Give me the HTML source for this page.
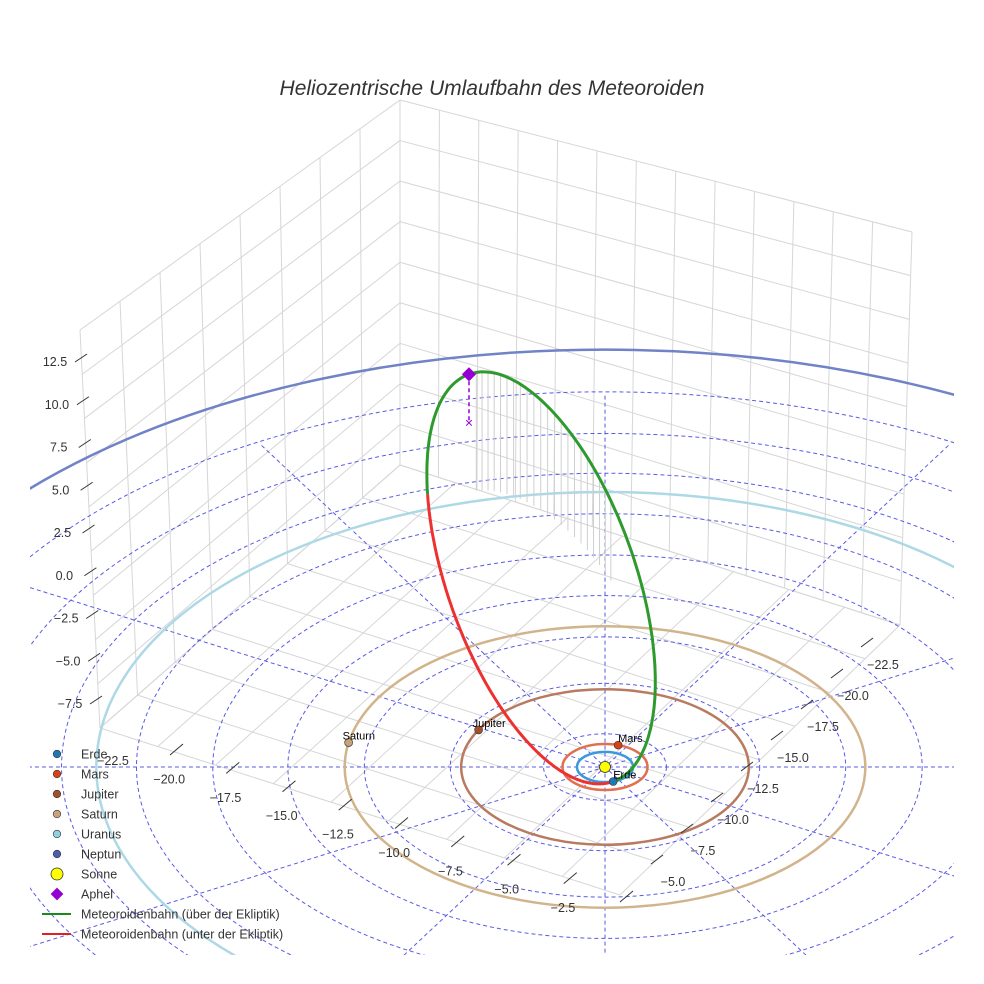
<!DOCTYPE html>
<html><head><meta charset="utf-8">
<style>
html,body{margin:0;padding:0;background:#fff;overflow:hidden;width:984px;height:984px;}
svg{display:block;font-family:"Liberation Sans",sans-serif;}
</style></head>
<body>
<svg id="chart" width="984" height="984" viewBox="0 0 984 984" overflow="hidden">
<defs><clipPath id="clip"><rect x="30" y="60" width="924" height="895"/></clipPath></defs>
<rect width="984" height="984" fill="#fff"/>
<text x="492" y="95" text-anchor="middle" font-size="21" font-style="italic" fill="#333">Heliozentrische Umlaufbahn des Meteoroiden</text>
<g id="box"></g>
<g id="plane" clip-path="url(#clip)"></g>
<g id="orbits" clip-path="url(#clip)"></g>
<g id="meteor"></g>
<g id="ticks"></g>
<g id="legend"></g>
</svg>
<script>
// ---- data ----
const planetNames = ["Erde","Mars","Jupiter","Saturn","Uranus","Neptun"];
const planetRadiiAU = [1.0, 1.52, 5.2, 9.54, 19.2, 30.1];
const planetAnglesDeg = [-73, 72, 151.5, 170, 0, 0];
const planetColors = ["#1f77b4","#d84315","#a0522d","#c8a27a","#8ecfe0","#4a5fb0"];
const orbitColors = ["#3a9ad9","#e07050","#b87a60","#d2b48c","#add8e6","#7083c6"];
const showMarker = [true,true,true,true,false,false];
const gridRingsAU = [2.2, 5.6, 8.8, 11.7, 14.6, 17.6, 20.6, 23.6, 26.8];
const gridSpokesDeg = [0,30,60,90,120,150];
const xTickLabels = ["−22.5","−20.0","−17.5","−15.0","−12.5","−10.0","−7.5","−5.0","−2.5"];
const yTickLabels = ["−22.5","−20.0","−17.5","−15.0","−12.5","−10.0","−7.5","−5.0"];
const zTickLabels = ["12.5","10.0","7.5","5.0","2.5","0.0","−2.5","−5.0","−7.5"];
const meteorSemiMajorPx = [216];
const meteorSemiMinorPx = [94];
const meteorTiltDeg = [70.5];
const aphelionDrop = [48];

const NS="http://www.w3.org/2000/svg";
function mk(tag,attrs,parent){const e=document.createElementNS(NS,tag);for(const k in attrs)e.setAttribute(k,attrs[k]);parent.appendChild(e);return e;}
const CX=605, CY=767, RATIO=1.85;
function ryOf(r){return 15.2*r/(1+0.0032*r);}
function planePt(r,deg){const ry=ryOf(r),t=deg*Math.PI/180;return [CX+RATIO*ry*Math.cos(t),CY-ry*Math.sin(t)];}

// ---- box ----
const box=document.getElementById('box');
function lerp(a,b,t){return [a[0]+(b[0]-a[0])*t,a[1]+(b[1]-a[1])*t];}
function gridQuad(p00,p10,p01,p11,nu,nv,name){
  for(let i=0;i<=nu;i++){const a=lerp(p00,p10,i/nu),b=lerp(p01,p11,i/nu);
    const l=mk('line',{x1:a[0],y1:a[1],x2:b[0],y2:b[1],stroke:'#d6d6d6','stroke-width':1},box);
    }
  for(let j=0;j<=nv;j++){const a=lerp(p00,p01,j/nv),b=lerp(p10,p11,j/nv);
    const l=mk('line',{x1:a[0],y1:a[1],x2:b[0],y2:b[1],stroke:'#d6d6d6','stroke-width':1},box);
    }
}
const TL=[80,330],TB=[400,100],TR=[912,232],BL=[100,728],BB=[400,465],BR=[900,625],BF=[620,895];
gridQuad(TL,TB,BL,BB,8,9,'left-wall');
gridQuad(TB,TR,BB,BR,13,9,'right-wall');
gridQuad(BL,BB,BF,BR,8,9,'floor');

// ---- ecliptic grid ----
const plane=document.getElementById('plane');
gridRingsAU.forEach(r=>{const ry=ryOf(r);
  const e=mk('ellipse',{cx:CX,cy:CY,rx:RATIO*ry,ry:ry,fill:'none',stroke:'#5a5ae6','stroke-width':1,'stroke-dasharray':'4,3'},plane);
  });
gridSpokesDeg.forEach(d=>{const a=planePt(26.5,d),b=planePt(26.5,d+180);
  const l=mk('line',{x1:a[0],y1:a[1],x2:b[0],y2:b[1],stroke:'#5a5ae6','stroke-width':1,'stroke-dasharray':'4,3'},plane);
  });

// ---- planet orbits ----
const orbits=document.getElementById('orbits');
planetRadiiAU.forEach((r,i)=>{const ry=ryOf(r);
  const e=mk('ellipse',{cx:CX,cy:CY,rx:RATIO*ry,ry:ry,fill:'none',stroke:orbitColors[i],'stroke-width':2.5},orbits);
  });

// ---- meteoroid ----
const met=document.getElementById('meteor');
const a=meteorSemiMajorPx[0],b=meteorSemiMinorPx[0],tilt=meteorTiltDeg[0]*Math.PI/180;
const earthPt=planePt(planetRadiiAU[0],planetAnglesDeg[0]);
const u=[-Math.cos(tilt),-Math.sin(tilt)], w=[Math.sin(tilt),-Math.cos(tilt)];
const C=[earthPt[0]+u[0]*a, earthPt[1]+u[1]*a];
function mp(t){return [C[0]+a*Math.cos(t)*u[0]+b*Math.sin(t)*w[0], C[1]+a*Math.cos(t)*u[1]+b*Math.sin(t)*w[1]];}
function arc(t0,t1){let d='';const n=140;for(let k=0;k<=n;k++){const p=mp(t0+(t1-t0)*k/n);d+=(k?'L':'M')+p[0].toFixed(1)+','+p[1].toFixed(1);}return d;}
// droplines
for(let k=0;k<22;k++){const t=0.08+k*0.06;const p=mp(t);const h=(CY-p[1])*0.3;
  const l=mk('line',{x1:p[0],y1:p[1],x2:p[0],y2:p[1]+h,stroke:'#cfcfcf','stroke-width':1},met);
  }
const rd=mk('path',{d:arc(-Math.PI,-1.0),fill:'none',stroke:'#ee3030','stroke-width':3},met);

const g=mk('path',{d:arc(-1.0,Math.PI),fill:'none',stroke:'#2e9a2e','stroke-width':3},met);

const ap=mp(0);
const dl=mk('line',{x1:ap[0],y1:ap[1],x2:ap[0],y2:ap[1]+aphelionDrop[0],stroke:'#9400d3','stroke-width':1.5,'stroke-dasharray':'4,3'},met);

const xm=mk('text',{x:ap[0],y:ap[1]+aphelionDrop[0]+5,'text-anchor':'middle','font-size':14,fill:'#9400d3'},met);xm.textContent='×';

const dm=mk('rect',{x:ap[0]-5,y:ap[1]-5,width:10,height:10,fill:'#9400d3',transform:`rotate(45 ${ap[0]} ${ap[1]})`},met);


// planets
planetNames.forEach((n,i)=>{if(!showMarker[i])return;const p=planePt(planetRadiiAU[i],planetAnglesDeg[i]);
  const c=mk('circle',{cx:p[0],cy:p[1],r:4,fill:planetColors[i],stroke:'#333','stroke-width':0.6},met);
  
  const t=mk('text',{x:p[0]-6+(i<2?6:0),y:p[1]-3,'font-size':11,fill:'#000'},met);t.textContent=n;
  });
const sun=mk('circle',{cx:CX,cy:CY,r:5.5,fill:'#ffff00',stroke:'#333','stroke-width':0.8},met);


// ---- ticks ----
const tk=document.getElementById('ticks');
function axis(labels,p0,p1,anchor,name,tickDir){
  labels.forEach((s,i)=>{const p=lerp(p0,p1,labels.length>1?i/(labels.length-1):0);
    const t=mk('text',{x:p[0],y:p[1]+4,'text-anchor':anchor,'font-size':12.5,fill:'#333'},tk);t.textContent=s;
    
    const l=mk('line',{x1:p[0]+tickDir[0],y1:p[1]+tickDir[1],x2:p[0]+tickDir[2],y2:p[1]+tickDir[3],stroke:'#333','stroke-width':1},tk);
    });
}
axis(xTickLabels,[113,761],[563,908],'middle','x-axis',[57,-6,70,-17]);
axis(yTickLabels,[883,665],[673,882],'middle','y-axis',[-22,-18,-10,-27]);
axis(zTickLabels,[55,362],[70,704],'middle','z-axis',[20,0,32,-8]);

// ---- legend ----
const lg=document.getElementById('legend');
const legendLabels=["Erde","Mars","Jupiter","Saturn","Uranus","Neptun","Sonne","Aphel","Meteoroidenbahn (über der Ekliptik)","Meteoroidenbahn (unter der Ekliptik)"];
const legendColors=planetColors.concat(["#ffff00","#9400d3","#1a8a1a","#e02020"]);
legendLabels.forEach((s,i)=>{const y=754+i*20;
  if(i<6){const c=mk('circle',{cx:57,cy:y,r:3.8,fill:legendColors[i],stroke:'#333','stroke-width':0.6},lg);}
  else if(i==6){const c=mk('circle',{cx:57,cy:y,r:6,fill:'#ffff00',stroke:'#333','stroke-width':0.8},lg);}
  else if(i==7){const c=mk('rect',{x:52.5,y:y-4.5,width:9,height:9,fill:'#9400d3',transform:`rotate(45 57 ${y})`},lg);}
  else{const c=mk('line',{x1:42,y1:y,x2:71,y2:y,stroke:legendColors[i],'stroke-width':2},lg);}
  const t=mk('text',{x:81,y:y+4.5,'font-size':12.5,fill:'#333'},lg);t.textContent=s;
  });
</script>
</body></html>
